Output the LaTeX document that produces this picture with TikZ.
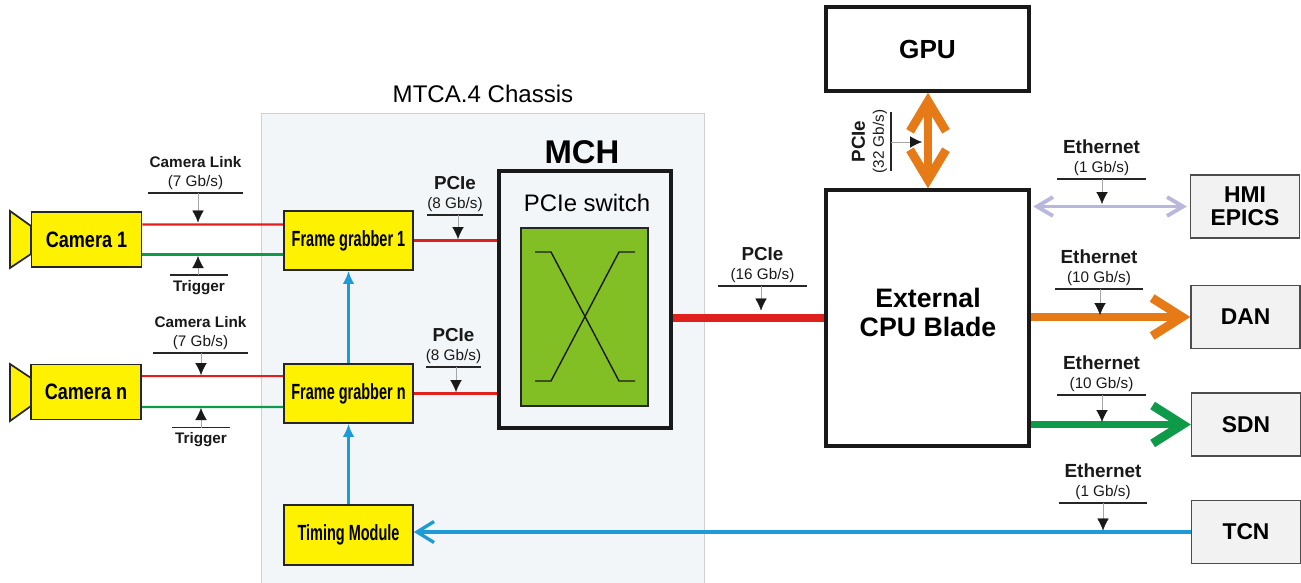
\documentclass[tikz,border=0pt]{standalone}
\usepackage{fontspec}
\setmainfont{Liberation Sans}
\newfontfamily\camfont[FakeStretch=0.81]{Liberation Sans Bold}
\newfontfamily\grabfont[FakeStretch=0.66]{Liberation Sans Bold}
\usetikzlibrary{arrows.meta}
\definecolor{boxyellow}{HTML}{FFF200}
\definecolor{chassisgray}{HTML}{F3F6F9}
\definecolor{switchgreen}{HTML}{82BF24}
\definecolor{linkred}{HTML}{E0201C}
\definecolor{linkgreen}{HTML}{0F9A4A}
\definecolor{linkblue}{HTML}{1E9BD7}
\definecolor{linkorange}{HTML}{E67A17}
\definecolor{linklilac}{HTML}{B9B7DC}
\tikzset{
  yellowbox/.style={draw=black!85,fill=boxyellow,line width=1pt},
  whitebox/.style={draw=black!90,fill=white,line width=2pt},
  graybox/.style={draw=black!70,fill=black!5,line width=0.8pt,minimum width=2.18cm,minimum height=1.26cm,align=center,font=\fontsize{13}{13}\selectfont\bfseries},
  framebox/.style={yellowbox,minimum width=2.58cm,minimum height=1.18cm,font=\fontsize{12.5}{14}\grabfont},
  cambox/.style={yellowbox,minimum width=2.2cm,minimum height=1.1cm,font=\fontsize{12.7}{14}\camfont},
  thinlink/.style={line width=1.15pt},
  fatbarb/.style={-{Straight Barb[sharp,length=6mm,width=7.6mm,line width=5pt]},line width=4.2pt},
  tagbar/.style={line width=0.6pt,black!85},
  tagstem/.style={line width=0.25pt,black!35,-{Latex[black!90,length=2.4mm,width=2.3mm]}},
  tagtext/.style={align=center,inner sep=0pt,outer sep=0pt,text=black!90,font=\fontsize{8.7}{10.8}\selectfont},
  bluetip/.style={-{Latex[length=2.6mm,width=2.3mm]},line width=1.15pt,linkblue},
}
\newcommand{\bustag}[8]{%
  \node[tagtext,minimum width=#4cm,anchor=south] (#1) at (#2,#3-3) {{\fontsize{#8}{10.8}\selectfont\bfseries #5}\\#6};
  \coordinate (#1-tip) at #7;
  \draw[tagbar] (#1.south west |- #2,#3) -- (#1.south east |- #2,#3);
  \draw[tagstem] (#1-tip |- #2,#3) -- (#1-tip);
}
\newcommand{\triggertag}[4]{%
  \node[tagtext,minimum width=1.16cm,anchor=north] (#1) at (#2,#3+5) {\bfseries Trigger};
  \coordinate (#1-tip) at #4;
  \draw[tagbar] (#1.north west |- #2,#3) -- (#1.north east |- #2,#3);
  \draw[tagstem] (#1-tip |- #2,#3) -- (#1-tip);
}
\begin{document}
\begin{tikzpicture}[x=0.02cm,y=-0.02cm]
  \useasboundingbox (0,0) rectangle (1301,582);
  \filldraw[fill=chassisgray,draw=black!18,line width=0.5pt] (261,590) -- (261,113) -- (704,113) -- (704,590);
  \node (chassis) at (483,94) {\fontsize{13.7}{15}\selectfont MTCA.4 Chassis};

  \filldraw[yellowbox] (31,226) -- (10,211) -- (10,268) -- (31,254) -- cycle;
  \filldraw[yellowbox] (31,378) -- (10,364) -- (10,421) -- (31,406) -- cycle;
  \node[cambox] (cam1) at (86.5,239.5) {Camera 1};
  \node[cambox] (camn) at (86,392) {Camera n};
  \node[framebox] (fg1) at (348.5,240.5) {Frame grabber 1};
  \node[framebox] (fgn) at (348.5,393.5) {Frame grabber n};
  \node[framebox,minimum height=1.2cm] (timing) at (348.5,535) {Timing Module};

  \node[whitebox,fill=chassisgray,minimum width=3.44cm,minimum height=5.14cm] (mch) at (585,299.5) {};
  \node[anchor=south,inner sep=0pt] (mchtitle) at (582,164) {\fontsize{18.7}{20}\selectfont\bfseries MCH};
  \node (switchtitle) at (587,203) {\fontsize{13.6}{15}\selectfont PCIe switch};
  \node[draw=black!85,fill=switchgreen,line width=0.8pt,minimum width=2.54cm,minimum height=3.56cm] (switch) at (584.5,317) {};
  \draw[line width=0.8pt,black!90] (535,252) -- (551,252) -- (619,381) -- (635,381);
  \draw[line width=0.8pt,black!90] (635,252) -- (619,252) -- (551,381) -- (535,381);

  \node[whitebox,minimum width=4.06cm,minimum height=1.68cm] (gpu) at (927.5,49) {\fontsize{14.9}{16}\selectfont\bfseries GPU};
  \node[whitebox,minimum width=4.06cm,minimum height=5.12cm] (cpu) at (927.5,318) {};
  \node[align=center,font=\fontsize{15.2}{16.5}\selectfont\bfseries] (cputext) at (928,312.5) {External\\CPU Blade};
  \node[graybox] (hmi) at (1245,206.5) {HMI\\EPICS};
  \node[graybox] (dan) at (1245.5,317) {DAN};
  \node[graybox] (sdn) at (1246,424.5) {SDN};
  \node[graybox] (tcn) at (1246,532) {TCN};

  \draw[thinlink,linkred] ([yshift=0.3cm]cam1.east) -- ([yshift=0.32cm]fg1.west);
  \draw[thinlink,linkgreen] ([yshift=-0.3cm]cam1.east) -- ([yshift=-0.28cm]fg1.west);
  \draw[thinlink,linkred] ([yshift=0.32cm]camn.east) -- ([yshift=0.35cm]fgn.west);
  \draw[thinlink,linkgreen] ([yshift=-0.3cm]camn.east) -- ([yshift=-0.27cm]fgn.west);
  \draw[thinlink,linkred] (fg1.east) -- (mch.west |- fg1.east);
  \draw[thinlink,linkred] (fgn.east) -- (mch.west |- fgn.east);
  \draw[line width=4pt,linkred] (mch.east |- cpu.west) -- (cpu.west);

  \draw[bluetip] (fgn.north) -- (fg1.south);
  \draw[bluetip] (timing.north) -- (fgn.south);
  \draw[-{Straight Barb[sharp,length=3.4mm,width=4.2mm,line width=1.9pt]},line width=1.8pt,linkblue] (tcn.west) -- (timing.east |- tcn.west);
  \draw[{Straight Barb[sharp,length=3.2mm,width=3.8mm,line width=2.2pt]}-{Straight Barb[sharp,length=3.2mm,width=3.8mm,line width=2.2pt]},line width=2.2pt,linklilac] ([xshift=0.05cm]cpu.east |- hmi.west) -- ([xshift=-0.06cm]hmi.west);
  \draw[fatbarb,linkorange] (cpu.east |- dan.west) -- (dan.west);
  \draw[fatbarb,linkgreen] (cpu.east |- sdn.west) -- (sdn.west);
  \draw[{Straight Barb[sharp,length=6mm,width=7.2mm,line width=5pt]}-{Straight Barb[sharp,length=6mm,width=7.2mm,line width=5pt]},line width=4.2pt,linkorange] (gpu.south -| 928,0) -- (cpu.north -| 928,0);

  \bustag{link1}{195.5}{193}{1.9}{Camera Link}{(7 Gb/s)}{(198,222.5)}{8.7}
  \bustag{linkn}{200.5}{353}{1.9}{Camera Link}{(7 Gb/s)}{(201,375)}{8.7}
  \triggertag{trig1}{199}{275}{(198,256)}
  \triggertag{trign}{201}{427.5}{(201,408)}
  \bustag{pcie1}{455}{215}{1.08}{PCIe}{(8 Gb/s)}{(458,239)}{10.7}
  \bustag{pcien}{453.5}{367}{1.06}{PCIe}{(8 Gb/s)}{(456,392)}{10.7}
  \bustag{pciecpu}{762.5}{286}{1.78}{PCIe}{(16 Gb/s)}{(761,310.5)}{10.7}
  \bustag{ethhmi}{1101.5}{179}{1.78}{Ethernet}{(1 Gb/s)}{(1102,204)}{10.8}
  \bustag{ethdan}{1099}{289}{1.76}{Ethernet}{(10 Gb/s)}{(1100,315)}{10.8}
  \bustag{ethsdn}{1101.5}{395}{1.78}{Ethernet}{(10 Gb/s)}{(1102,422)}{10.8}
  \bustag{ethtcn}{1103}{503}{1.76}{Ethernet}{(1 Gb/s)}{(1103,530.5)}{10.8}

  \node[tagtext,rotate=90,anchor=south,minimum width=1.18cm] (pciegpu) at (887,141.5) {{\fontsize{10.7}{10.8}\selectfont\bfseries PCIe}\\(32 Gb/s)};
  \coordinate (pciegpu-tip) at (922,142);
  \draw[tagbar] (891,112) -- (891,171);
  \draw[tagstem] (891,142) -- (pciegpu-tip);
\end{tikzpicture}
\end{document}
